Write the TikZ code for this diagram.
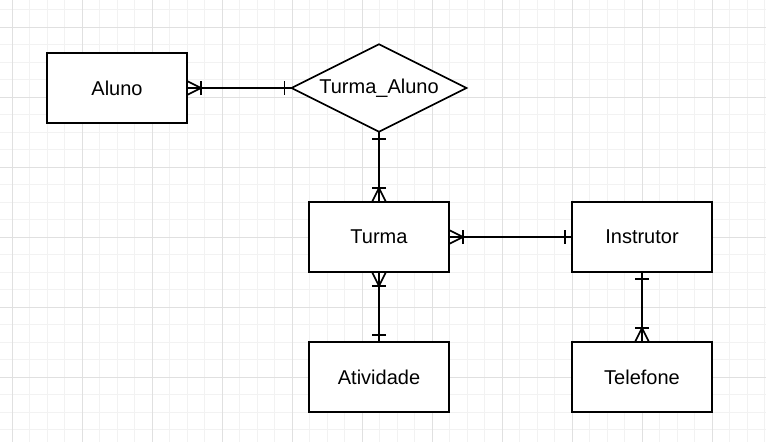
\documentclass[tikz,border=0pt]{standalone}
\usepackage{fontspec}
\setmainfont{Liberation Sans}
\usetikzlibrary{shapes.geometric,calc}
\definecolor{gridminor}{HTML}{F2F2F2}
\definecolor{gridmajor}{HTML}{E0E0E0}
\tikzset{
  entity/.style={draw=black, line width=1.75pt, fill=white, minimum width=140pt, minimum height=70pt, inner sep=0pt, outer sep=0pt, font=\fontsize{20}{24}\selectfont},
  relation/.style={draw=black, line width=1.75pt, fill=white, shape=diamond, minimum width=175pt, minimum height=87.5pt, inner sep=0pt, outer sep=0pt},
  conn/.style={draw=black, line width=1.75pt},
  minorline/.style={draw=gridminor, line width=1pt},
  majorline/.style={draw=gridmajor, line width=1pt}
}
% #1 end point, #2 #3 unit direction pointing from the end into the line
\newcommand\erMany[3]{%
  \draw[conn, line join=miter] ($(#1)+({-7*(#3)},{7*(#2)})$) -- ($(#1)+({14*(#2)},{14*(#3)})$) -- ($(#1)+({7*(#3)},{-7*(#2)})$);
  \draw[conn] ($(#1)+({14*(#2)-7*(#3)},{14*(#3)+7*(#2)})$) -- ($(#1)+({14*(#2)+7*(#3)},{14*(#3)-7*(#2)})$);
}
\newcommand\erOne[3]{%
  \draw[conn] ($(#1)+({7*(#2)-7*(#3)},{7*(#3)+7*(#2)})$) -- ($(#1)+({7*(#2)+7*(#3)},{7*(#3)-7*(#2)})$);
}
\begin{document}
\begin{tikzpicture}[x=1pt,y=-1pt]
\fill[white] (0,0) rectangle (766,442);
\useasboundingbox (0,0) rectangle (766,442);
% grid
\foreach \i in {0,...,43} { \draw[minorline] ({12+17.5*\i},0) -- ({12+17.5*\i},442); }
\foreach \j in {0,...,25} { \draw[minorline] (0,{9.8+17.5*\j}) -- (766,{9.8+17.5*\j}); }
\foreach \i in {0,...,10} { \draw[majorline] ({12+70*\i},0) -- ({12+70*\i},442); }
\foreach \j in {0,...,6} { \draw[majorline] (0,{27.3+70*\j}) -- (766,{27.3+70*\j}); }

% nodes
\node[entity] (aluno) at (117,88) {Aluno};
\node[relation, label={[font=\fontsize{20}{24}\selectfont]center:Turma\_Aluno}] (ta) at (379,88) {};
\node[entity] (turma) at (379,237) {Turma};
\node[entity] (instrutor) at (642,237) {Instrutor};
\node[entity] (atividade) at (379,377) {Atividade};
\node[entity] (telefone) at (642,377) {Telefone};

% connectors
\draw[conn] (aluno.east) -- (ta.west);
\erMany{aluno.east}{1}{0}
\erOne{ta.west}{-1}{0}

\draw[conn] (ta.south) -- (turma.north);
\erOne{ta.south}{0}{1}
\erMany{turma.north}{0}{-1}

\draw[conn] (turma.east) -- (instrutor.west);
\erMany{turma.east}{1}{0}
\erOne{instrutor.west}{-1}{0}

\draw[conn] (turma.south) -- (atividade.north);
\erMany{turma.south}{0}{1}
\erOne{atividade.north}{0}{-1}

\draw[conn] (instrutor.south) -- (telefone.north);
\erOne{instrutor.south}{0}{1}
\erMany{telefone.north}{0}{-1}
\end{tikzpicture}
\end{document}
